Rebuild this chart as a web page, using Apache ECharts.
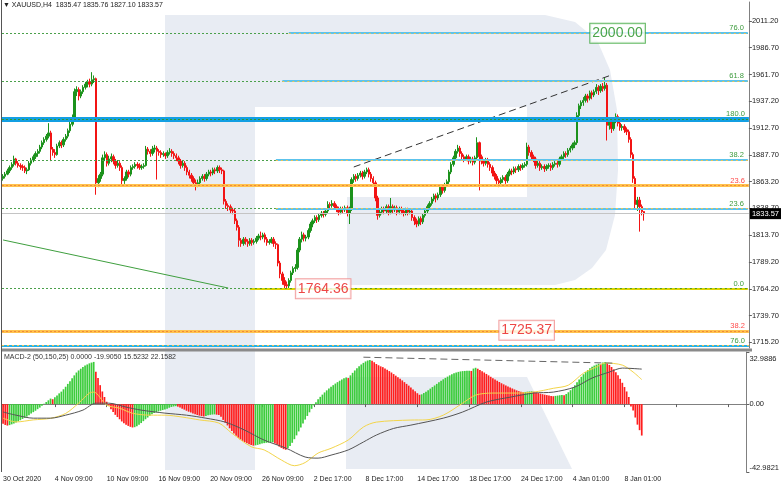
<!DOCTYPE html>
<html><head><meta charset="utf-8">
<script src="https://cdn.jsdelivr.net/npm/echarts@6/dist/echarts.min.js"></script>
<style>html,body{margin:0;padding:0;background:#fff}#c{width:782px;height:485px}</style>
</head><body><div id="c"></div>
<script>
// ---- DATA ----
const symbolName = 'XAUUSD,H4';
const lastQuote = ['1835.47', '1835.76', '1827.10', '1833.57'];
const macdTitle = 'MACD-2 (50,150,25) 0.0000 -19.9050 15.5232 22.1582';
const timeLabels = ['30 Oct 2020','4 Nov 09:00','10 Nov 09:00','16 Nov 09:00','20 Nov 09:00','26 Nov 09:00','2 Dec 17:00','8 Dec 17:00','14 Dec 17:00','18 Dec 17:00','24 Dec 17:00','4 Jan 01:00','8 Jan 01:00'];
const barsPerLabel = 24;
const priceTicks = [2011.20,1986.70,1961.70,1937.20,1912.70,1887.70,1863.20,1838.70,1813.70,1789.20,1764.20,1739.70,1715.20];
const macdTicks = [32.9886, 0, -42.9821];
const lastPrice = 1833.57;
// [open, close, low, high]
const candles = [
[1866,1868,1864,1870],[1868,1870,1866,1872],[1870,1873,1869,1875],[1873,1876,1871,1878],[1876,1879,1874,1881],
[1879,1884,1877,1887],[1884,1880,1878,1885],[1880,1878,1876,1882],[1878,1877,1874,1880],[1877,1876,1873,1879],
[1876,1873,1871,1878],[1873,1874,1870,1876],[1874,1880,1873,1882],[1880,1883,1878,1885],[1883,1886,1881,1888],
[1886,1889,1884,1891],[1889,1891,1886,1893],[1891,1895,1889,1897],[1895,1899,1893,1901],[1899,1902,1897,1904],
[1902,1905,1900,1907],[1905,1908,1903,1917],[1908,1893,1882,1910],[1893,1890,1887,1895],[1890,1888,1885,1893],
[1888,1896,1887,1898],[1896,1899,1894,1901],[1899,1897,1894,1901],[1897,1902,1895,1904],[1902,1905,1900,1907],
[1905,1910,1903,1912],[1910,1916,1908,1918],[1916,1922,1914,1925],[1922,1946,1921,1949],[1946,1948,1942,1951],
[1948,1942,1938,1950],[1942,1946,1940,1948],[1946,1950,1944,1952],[1950,1953,1948,1955],[1953,1955,1950,1957],
[1955,1953,1950,1958],[1953,1957,1951,1964],[1957,1958,1954,1961],[1958,1862,1851,1959],[1862,1866,1858,1869],
[1866,1870,1863,1872],[1870,1885,1868,1888],[1885,1888,1882,1891],[1888,1880,1877,1890],[1880,1884,1878,1887],
[1884,1886,1881,1889],[1886,1882,1879,1888],[1882,1878,1875,1884],[1878,1880,1876,1883],[1880,1876,1873,1882],
[1876,1864,1860,1878],[1864,1866,1861,1868],[1866,1872,1864,1874],[1872,1870,1867,1874],[1870,1876,1868,1878],
[1876,1877,1874,1879],[1877,1879,1875,1881],[1879,1878,1875,1881],[1878,1876,1874,1880],[1876,1877,1874,1879],
[1877,1878,1875,1880],[1878,1893,1877,1896],[1893,1891,1888,1895],[1891,1889,1886,1893],[1889,1893,1887,1896],
[1893,1894,1890,1897],[1894,1891,1865,1896],[1891,1890,1887,1893],[1890,1888,1885,1892],[1888,1889,1886,1891],
[1889,1887,1884,1890],[1887,1890,1885,1892],[1890,1891,1888,1894],[1891,1889,1886,1893],[1889,1887,1884,1891],
[1887,1885,1882,1889],[1885,1882,1879,1887],[1882,1878,1875,1884],[1878,1880,1876,1883],[1880,1876,1873,1882],
[1876,1872,1869,1878],[1872,1869,1866,1874],[1869,1866,1863,1871],[1866,1862,1859,1868],[1862,1861,1855,1865],
[1861,1862,1858,1865],[1862,1866,1860,1868],[1866,1868,1864,1870],[1868,1866,1863,1870],[1866,1870,1864,1872],
[1870,1872,1868,1874],[1872,1871,1868,1874],[1871,1874,1869,1876],[1874,1873,1870,1876],[1873,1876,1871,1878],
[1876,1874,1871,1878],[1874,1873,1870,1876],[1873,1845,1842,1874],[1845,1841,1838,1847],[1841,1840,1836,1843],
[1840,1837,1834,1842],[1837,1836,1833,1839],[1836,1827,1824,1838],[1827,1821,1818,1829],[1821,1809,1803,1823],
[1809,1806,1803,1811],[1806,1810,1804,1812],[1810,1808,1805,1812],[1808,1806,1803,1810],[1806,1809,1804,1811],
[1809,1807,1804,1811],[1807,1808,1805,1810],[1808,1811,1806,1813],[1811,1813,1809,1815],[1813,1812,1809,1817],
[1812,1814,1810,1816],[1814,1810,1807,1816],[1810,1807,1804,1812],[1807,1808,1805,1810],[1808,1810,1806,1812],
[1810,1806,1803,1812],[1806,1805,1801,1808],[1805,1788,1785,1806],[1788,1778,1774,1790],[1778,1772,1768,1780],
[1772,1768,1765,1775],[1768,1767,1764.36,1771],[1767,1772,1765,1774],[1772,1779,1770,1781],[1779,1783,1777,1785],
[1783,1784,1780,1787],[1784,1800,1782,1802],[1800,1810,1798,1812],[1810,1814,1807,1817],[1814,1811,1808,1816],
[1811,1812,1808,1814],[1812,1818,1810,1820],[1818,1824,1816,1826],[1824,1827,1821,1829],[1827,1830,1825,1832],
[1830,1828,1825,1832],[1828,1832,1826,1834],[1832,1834,1830,1836],[1834,1833,1830,1836],[1833,1836,1831,1838],
[1836,1842,1834,1845],[1842,1841,1838,1844],[1841,1843,1839,1846],[1843,1840,1837,1845],[1840,1838,1835,1842],
[1838,1835,1832,1840],[1835,1838,1833,1840],[1838,1837,1834,1840],[1837,1839,1835,1841],[1839,1834,1831,1841],
[1834,1838,1824,1840],[1838,1865,1836,1867],[1865,1868,1862,1870],[1868,1866,1863,1870],[1866,1869,1864,1871],
[1869,1871,1867,1873],[1871,1868,1865,1873],[1868,1872,1866,1874],[1872,1874,1870,1876],[1874,1870,1867,1876],
[1870,1866,1863,1872],[1866,1862,1859,1868],[1862,1848,1845,1864],[1848,1832,1828,1850],[1832,1835,1830,1837],
[1835,1838,1833,1840],[1838,1836,1833,1840],[1836,1840,1834,1842],[1840,1835,1832,1842],[1835,1840,1833,1848],
[1840,1837,1834,1842],[1837,1839,1835,1841],[1839,1835,1832,1841],[1835,1838,1833,1840],[1838,1836,1833,1840],
[1836,1834,1831,1838],[1834,1837,1832,1839],[1837,1835,1832,1839],[1835,1836,1833,1838],[1836,1830,1827,1838],
[1830,1827,1823,1832],[1827,1824,1821,1829],[1824,1829,1822,1831],[1829,1826,1823,1831],[1826,1832,1824,1834],
[1832,1836,1830,1838],[1836,1840,1834,1842],[1840,1843,1838,1845],[1843,1847,1841,1849],[1847,1850,1845,1852],
[1850,1848,1844,1852],[1848,1851,1846,1853],[1851,1858,1849,1860],[1858,1855,1852,1860],[1855,1860,1853,1862],
[1860,1863,1858,1865],[1863,1872,1861,1874],[1872,1879,1870,1881],[1879,1885,1877,1887],[1885,1891,1883,1893],
[1891,1894,1889,1897],[1894,1889,1886,1896],[1889,1886,1883,1891],[1886,1884,1881,1888],[1884,1886,1882,1888],
[1886,1882,1879,1888],[1882,1884,1880,1886],[1884,1881,1878,1886],[1881,1885,1879,1887],[1885,1899,1883,1904],
[1899,1886,1855,1900],[1886,1882,1879,1888],[1882,1880,1877,1884],[1880,1883,1878,1885],[1883,1879,1876,1885],
[1879,1876,1873,1881],[1876,1871,1868,1878],[1871,1868,1865,1873],[1868,1864,1861,1870],[1864,1862,1858,1866],
[1862,1865,1860,1867],[1865,1867,1862,1869],[1867,1864,1861,1869],[1864,1870,1862,1872],[1870,1873,1868,1875],
[1873,1872,1869,1875],[1872,1875,1870,1877],[1875,1874,1871,1877],[1874,1877,1872,1879],[1877,1876,1873,1879],
[1876,1878,1874,1880],[1878,1879,1876,1881],[1879,1895,1877,1899],[1895,1890,1887,1897],[1890,1886,1883,1892],
[1886,1884,1881,1888],[1884,1878,1875,1886],[1878,1880,1876,1882],[1880,1876,1873,1882],[1876,1877,1874,1879],
[1877,1875,1872,1879],[1875,1877,1873,1879],[1877,1878,1875,1880],[1878,1876,1873,1880],[1876,1879,1874,1881],
[1879,1880,1877,1882],[1880,1879,1876,1882],[1879,1884,1877,1886],[1884,1886,1882,1888],[1886,1889,1884,1891],
[1889,1888,1885,1891],[1888,1892,1886,1894],[1892,1894,1890,1896],[1894,1897,1892,1899],[1897,1899,1894,1901],
[1899,1924,1897,1927],[1924,1933,1922,1935],[1933,1936,1930,1938],[1936,1938,1933,1941],[1938,1942,1936,1944],
[1942,1940,1936,1944],[1940,1945,1938,1947],[1945,1943,1939,1947],[1943,1946,1941,1948],[1946,1950,1944,1953],
[1950,1947,1943,1952],[1947,1951,1945,1953],[1951,1949,1946,1954],[1949,1952,1947,1959],[1952,1915,1901,1954],
[1915,1918,1911,1920],[1918,1912,1908,1920],[1912,1919,1910,1921],[1919,1923,1917,1926],[1923,1917,1914,1925],
[1917,1913,1910,1919],[1913,1914,1910,1916],[1914,1911,1908,1916],[1911,1909,1906,1913],[1909,1902,1899,1911],
[1902,1888,1885,1904],[1888,1866,1862,1890],[1866,1842,1838,1868],[1842,1846,1836,1849],[1846,1840,1817,1849],
[1840,1835.47,1832,1842],[1835.47,1833.57,1827.10,1835.76]
];
const macdHist = [
-12.5,-13.2,-13.6,-13.3,-12.8,-12.2,-11.6,-10.9,-10.2,-9.4,
-8.7,-7.9,-7.0,-6.0,-5.1,-4.2,-3.2,-2.2,-1.1,0.2,
1.3,2.4,3.5,3.1,4.3,5.5,6.8,7.9,9.4,11.0,
12.8,14.5,16.4,18.2,20.0,21.3,22.4,23.5,24.4,25.1,
25.8,26.3,26.7,20.5,16.5,12.0,8.0,4.5,1.5,-1.0,
-3.2,-5.0,-6.8,-8.2,-9.6,-11.0,-12.1,-13.0,-13.8,-14.4,
-14.8,-14.6,-14.0,-13.1,-12.0,-10.8,-9.6,-8.5,-7.4,-6.5,
-5.7,-5.1,-4.6,-4.2,-3.8,-3.4,-2.9,-2.3,-1.8,-1.5,
-1.3,-1.6,-2.2,-2.9,-3.5,-4.2,-4.8,-5.3,-5.9,-6.4,
-6.9,-7.3,-7.6,-7.8,-7.5,-7.1,-6.8,-6.6,-6.5,-6.7,
-6.9,-8.0,-10.0,-11.8,-13.5,-15.3,-17.0,-18.6,-20.0,-21.3,
-22.4,-23.3,-24.1,-24.8,-25.4,-25.9,-26.3,-26.1,-25.8,-25.4,
-25.0,-24.7,-24.5,-24.4,-24.3,-24.2,-24.9,-25.8,-26.9,-27.8,
-28.5,-28.9,-28.0,-26.5,-24.5,-22.2,-19.8,-17.3,-14.8,-12.2,
-9.8,-7.5,-5.2,-3.0,-0.8,1.2,3.0,4.6,6.0,7.4,
8.7,9.9,11.0,12.0,13.0,13.9,14.8,15.6,16.3,16.9,
16.5,18.2,19.8,21.3,22.7,24.0,25.1,26.1,27.0,27.6,
28.0,27.5,26.5,25.4,24.6,23.9,23.4,22.6,21.8,20.9,
20.0,19.0,18.0,17.0,16.0,15.0,13.9,12.8,11.7,10.5,
9.3,8.1,6.9,5.9,6.2,7.0,7.9,8.8,9.8,10.8,
11.8,12.8,13.8,14.8,15.7,16.6,17.4,18.2,18.9,19.5,
20.0,20.4,20.7,20.9,21.0,21.1,21.15,21.0,22.5,23.0,
22.4,21.6,20.8,20.0,19.1,18.2,17.3,16.4,15.6,14.8,
14.0,13.2,12.5,11.8,11.1,10.5,9.9,9.3,8.7,8.2,
7.8,7.5,7.7,7.9,8.0,8.1,7.8,7.4,7.0,6.6,
6.3,6.0,5.7,5.4,5.2,5.0,5.2,5.4,5.6,5.8,
5.6,6.4,7.5,8.8,10.3,12.0,13.8,15.6,17.3,18.9,
20.3,21.6,22.7,23.6,24.4,25.0,25.6,25.2,26.3,26.6,
25.8,24.8,23.5,22.0,20.2,18.2,16.0,13.5,10.8,8.0,
4.5,-1.5,-4.0,-8.5,-13.0,-16.5,-19.905
];
// [barIndex, value] vertices
const macdYellow = [[0,-8.9],[6,-11.3],[14,-10],[22,-9],[29,-5.9],[35,0.6],[40,7],[42,7.6],[48,-0.6],[54,-2.6],[60,-5.8],[68,-7],[75,-7],[83,-8.2],[91,-10],[100,-12],[106,-18.4],[115,-27],[121,-29],[129,-35.4],[135,-39],[140,-37],[146,-31],[152,-28],[160,-22.7],[167,-14.5],[173,-11.4],[189,-10.1],[196,-10],[204,-7],[213,0.6],[219,5.7],[227,7],[238,7],[246,7.6],[255,10],[262,12],[269,19.6],[275,23.5],[279,26],[287,24.7],[292,20.3],[296,15.52]];
const macdGray = [[0,-5],[6,-7],[14,-8.9],[22,-8.9],[29,-7],[37,-3.8],[43,0.6],[49,0.6],[57,-1.9],[64,-3.8],[75,-5.7],[85,-7],[94,-8.9],[103,-11.4],[112,-16.5],[121,-22.8],[131,-27.8],[140,-33.5],[146,-34.2],[152,-32.3],[160,-29],[167,-24],[173,-19.6],[181,-15.4],[189,-13.3],[204,-8.9],[213,-5],[224,1.3],[235,4.4],[246,7],[255,7.6],[265,10.8],[273,16.5],[281,20.3],[287,22.8],[296,22.16]];
const macdTrend = [[167.4,29.7],[283.8,25.9]];
// [label, price, startBar (null = whole width), kind]
const fibLevels = [
 ['76.0', 2000.0, 132, 'cyan'],
 ['61.8', 1955.9, 129, 'cyan'],
 ['180.0', 1920.6, null, 'blue'],
 ['38.2', 1883.0, 126, 'cyan'],
 ['23.6', 1859.3, null, 'orange'],
 ['23.6', 1838.1, 126, 'cyan'],
 ['0.0', 1764.36, 114, 'yellow'],
 ['38.2', 1725.37, null, 'orange'],
 ['76.0', 1711.8, null, 'cyan2']
];
const greenDottedLevels = [2000.0, 1955.9, 1920.6, 1883.0, 1838.1, 1764.36];
const trendGreen = [[-0.5,1809.3],[104,1765.0]];
const trendDashed = [[162,1876.6],[280.6,1961.4]];
// [text, startBar, price, kind]
const priceBoxes = [['2000.00', 271, 2000.0, 'g'], ['1764.36', 134.7, 1764.36, 'r'], ['1725.37', 229, 1726.0, 'r']];

// ---- CHART ----
const N_CAT = 345;
const LAST = N_CAT - 1;
const cats = Array.from({length: N_CAT}, (_, i) => String(i));
const FONT = 'Liberation Sans, Arial, sans-serif';
const GREEN = '#1c921c', RED = '#f21414';
const WM = '#e8ecf3';
const styles = {
  cyan:   {base: {color: '#5cc3ec', width: 2, type: 'solid'}, dots: {color: '#efc452', width: 1, type: [2, 3]}, lbl: '#3d9b3d'},
  cyan2:  {base: {color: '#27b1e6', width: 2, type: 'solid'}, dots: {color: '#efc452', width: 1, type: [2, 3]}, lbl: '#3d9b3d'},
  blue:   {base: {color: '#139fe2', width: 5, type: 'solid'}, dots: {color: '#2f9a2f', width: 1, type: [2, 2]}, lbl: '#3d9b3d'},
  orange: {base: {color: '#ffc24d', width: 3, type: 'solid'}, dots: {color: '#f08a3a', width: 1, type: [2, 2]}, lbl: '#ff4a4a'},
  yellow: {base: {color: '#dcd400', width: 2, type: 'solid'}, dots: {color: '#4a9a2a', width: 1, type: [2, 3]}, lbl: '#3d9b3d'}
};
function hLine(p, from, lineStyle, label) {
  if (from === null) return {yAxis: p, lineStyle, label};
  return [{coord: [from, p], lineStyle, label}, {coord: [LAST, p]}];
}
const noLabel = {show: false};
const markData = [];
greenDottedLevels.forEach(p => markData.push(hLine(p, null, {color: '#4aa04a', width: 1, type: [2, 2]}, noLabel)));
fibLevels.forEach(([lab, p, from, kind]) => {
  const s = styles[kind];
  markData.push(hLine(p, from, s.base, noLabel));
  markData.push(hLine(p, from, s.dots, {show: true, position: 'insideEndTop', formatter: lab, color: s.lbl, fontSize: 7.5, fontFamily: FONT, distance: [4, 1]}));
});
markData.push(hLine(lastPrice, null, {color: '#c4c4c4', width: 1, type: 'solid'},
  {show: true, position: 'end', formatter: lastPrice.toFixed(2), color: '#fff', backgroundColor: '#000', padding: [2, 2, 1, 2], fontSize: 7.5, fontFamily: FONT, distance: 1}));

const boxStyle = {
  g: {color: '#1e8f1e', borderColor: '#3aa63a'},
  r: {color: '#e81818', borderColor: '#f08a8a'}
};

const option = {
  animation: false,
  backgroundColor: '#fff',
  title: [
    {text: '\u25BC ' + symbolName + '  ' + lastQuote.join(' '), left: 3, top: 2, padding: 0, textStyle: {fontSize: 7, fontWeight: 'normal', color: '#222', fontFamily: FONT}},
    {text: macdTitle, left: 4, top: 354, padding: 0, textStyle: {fontSize: 7, fontWeight: 'normal', color: '#333', fontFamily: FONT}}
  ],
  graphic: [
    {type: 'rect', z: 0, silent: true, shape: {x: 165, y: 15, width: 90, height: 455}, style: {fill: WM}},
    {type: 'polygon', z: 0, silent: true, shape: {points: [[255,15],[545,15],[575,22],[597,40],[610,70],[617,110],[618,170],[615,215],[606,250],[592,268],[575,280],[555,285],[347,285],[347,197],[527,197],[527,107],[255,107]]}, style: {fill: WM}},
    {type: 'polygon', z: 0, silent: true, shape: {points: [[346,377],[527,377],[572,469],[346,469]]}, style: {fill: WM}},
    {type: 'line', z: 10, silent: true, shape: {x1: 2, y1: 350, x2: 752, y2: 350}, style: {stroke: '#8a8a8a', lineWidth: 3}},
    {type: 'line', z: 10, silent: true, shape: {x1: 1.5, y1: 0, x2: 1.5, y2: 472}, style: {stroke: '#555', lineWidth: 1}}
  ],
  grid: [
    {left: 2, right: 30, top: 2, height: 346},
    {left: 2, right: 30, top: 352, height: 120}
  ],
  xAxis: [
    {type: 'category', gridIndex: 0, data: cats, boundaryGap: true, axisLine: {show: false}, axisTick: {show: false}, axisLabel: {show: false}, splitLine: {show: false}},
    {type: 'category', gridIndex: 1, data: cats, boundaryGap: true,
      axisLine: {show: true, lineStyle: {color: '#808080'}},
      axisTick: {show: true, interval: barsPerLabel - 1, alignWithLabel: true, length: 3, lineStyle: {color: '#606060'}},
      axisLabel: {interval: barsPerLabel - 1, align: 'left', margin: 4, fontSize: 7, color: '#222', fontFamily: FONT,
        formatter: (v, idx) => timeLabels[idx / barsPerLabel] || ''},
      splitLine: {show: false}}
  ],
  yAxis: [
    {type: 'value', gridIndex: 0, position: 'right', min: 1709.7, max: 2028.7, splitLine: {show: false},
      axisLine: {show: true, lineStyle: {color: '#808080'}},
      axisTick: {show: true, customValues: priceTicks, length: 3, lineStyle: {color: '#606060'}},
      axisLabel: {customValues: priceTicks, formatter: v => v.toFixed(2), fontSize: 7.5, color: '#222', margin: 3, fontFamily: FONT}},
    {type: 'value', gridIndex: 1, position: 'right', min: macdTicks[2], max: macdTicks[0], splitLine: {show: false},
      axisLine: {show: true, lineStyle: {color: '#808080'}},
      axisTick: {show: true, customValues: macdTicks, length: 3, lineStyle: {color: '#606060'}},
      axisLabel: {customValues: macdTicks, fontSize: 7.5, color: '#222', margin: 3, fontFamily: FONT,
        formatter: v => v === 0 ? '0.00' : (v > 0 ? '{t|' + v.toFixed(4) + '}' : '{b|' + v.toFixed(4) + '}'),
        rich: {t: {fontSize: 7.5, fontFamily: FONT, color: '#222', padding: [14, 0, 0, 0]}, b: {fontSize: 7.5, fontFamily: FONT, color: '#222', padding: [0, 0, 8, 0]}}}}
  ],
  series: [
    {type: 'line', xAxisIndex: 0, yAxisIndex: 0, data: [[0, lastPrice]], showSymbol: false, lineStyle: {opacity: 0}, z: 1, silent: true,
      markLine: {silent: true, symbol: ['none', 'none'], animation: false, data: markData}},
    {type: 'candlestick', xAxisIndex: 0, yAxisIndex: 0, data: candles, barWidth: 1.9, z: 3,
      itemStyle: {color: GREEN, color0: RED, borderColor: GREEN, borderColor0: RED, borderWidth: 1}},
    {type: 'line', xAxisIndex: 0, yAxisIndex: 0, data: trendGreen, showSymbol: false, z: 4, silent: true,
      lineStyle: {color: '#3f9f3f', width: 1}},
    {type: 'line', xAxisIndex: 0, yAxisIndex: 0, data: trendDashed, showSymbol: false, z: 4, silent: true,
      lineStyle: {color: '#333', width: 1, type: [7, 4]}},
    {type: 'scatter', xAxisIndex: 0, yAxisIndex: 0, z: 6, symbol: 'circle', symbolSize: 1, silent: true,
      itemStyle: {color: 'rgba(0,0,0,0)'},
      data: priceBoxes.map(([t, i, p, k]) => ({value: [i, p], label: {show: true, position: 'right', distance: 0, formatter: t,
        fontSize: 14, fontFamily: FONT, color: boxStyle[k].color, backgroundColor: '#fff', borderColor: boxStyle[k].borderColor,
        borderWidth: 1, padding: [3, 2, 2, 2]}}))},
    {type: 'bar', xAxisIndex: 1, yAxisIndex: 1, data: macdHist, barWidth: 1.7, z: 2,
      itemStyle: {color: p => (p.dataIndex > 0 && macdHist[p.dataIndex] > macdHist[p.dataIndex - 1]) ? '#3ccc3c' : '#ff1e1e'}},
    {type: 'line', xAxisIndex: 1, yAxisIndex: 1, data: macdYellow, smooth: 0.3, showSymbol: false, z: 3,
      lineStyle: {color: '#f3d54a', width: 1}},
    {type: 'line', xAxisIndex: 1, yAxisIndex: 1, data: macdGray, smooth: 0.3, showSymbol: false, z: 3,
      lineStyle: {color: '#555', width: 1}},
    {type: 'line', xAxisIndex: 1, yAxisIndex: 1, data: macdTrend, showSymbol: false, z: 4,
      lineStyle: {color: '#666', width: 1, type: [7, 4]}}
  ]
};
const chart = echarts.init(document.getElementById('c'));
chart.setOption(option);
</script>
</body></html>
